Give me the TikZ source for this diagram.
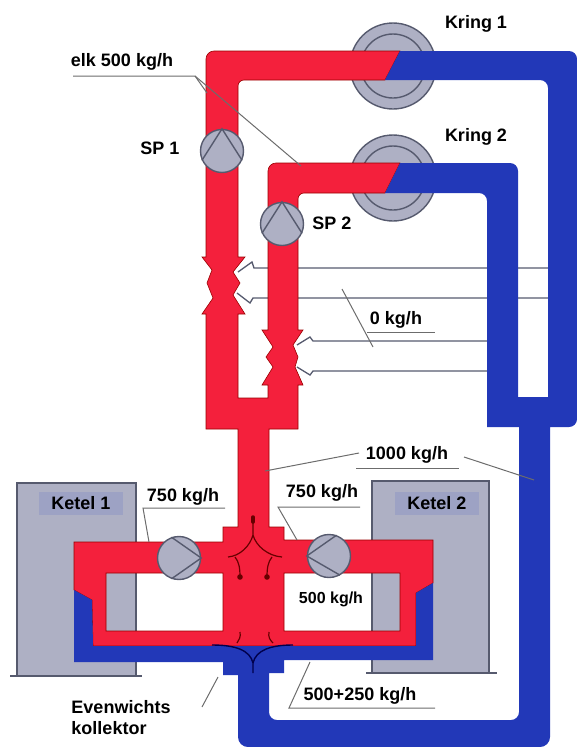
\documentclass[tikz,border=0pt]{standalone}
\usepackage{fontspec}
\setmainfont{Liberation Sans}
\usetikzlibrary{positioning}
\definecolor{pipered}{HTML}{F4203C}
\definecolor{pipeblue}{HTML}{2238B8}
\definecolor{plate}{HTML}{AEB0C4}
\definecolor{tag}{HTML}{9DA2C4}
\definecolor{rim}{HTML}{565A6E}
\tikzset{
  tekst/.style={font=\bfseries\fontsize{18}{21}\selectfont,inner sep=0pt,align=left},
  kleintekst/.style={font=\bfseries\fontsize{16}{19}\selectfont,inner sep=0pt},
  ketelbox/.style={draw=rim,line width=1.2pt,fill=plate},
  ketelnaam/.style={tekst,fill=tag,minimum width=84pt,minimum height=23pt},
  disc/.style={circle,draw=rim,line width=1.4pt,fill=plate,inner sep=0pt},
  pomp/.style={disc,minimum size=43pt},
  vaan/.style={draw=rim,line width=1.4pt},
  leader/.style={draw=gray!85!black,line width=1pt},
  regel/.style={draw=rim,line width=1.3pt},
  klepred/.style={draw=red!40!black,line width=1.2pt},
  klepblue/.style={draw=blue!30!black,line width=1.4pt}
}
\begin{document}
\begin{tikzpicture}[x=1pt,y=-1pt]
  \useasboundingbox (0,0) rectangle (577,747);
  % Ketels behind the manifold.
  \draw[ketelbox] (17,483) rectangle (136,676);
  \draw[ketelbox] (372,481) rectangle (489,673);
  \draw[rim,line width=1.4pt] (10,676) -- (142,676);
  \draw[rim,line width=1.4pt] (366,673) -- (497,673);

  % Control lines run behind the pipes.
  \foreach \a/\b/\c/\d/\e/\f/\g/\h in {
    238/272/252/262/254/268/548/268,
    237/293/250/303/253/298/548/298,
    297/345/310/337/313/341/487/341,
    297/367/310/375/313/371/487/371}
    \draw[regel] (\a,\b) -- (\c,\d) -- (\e,\f) -- (\g,\h);

  % Consumers.
  \node[disc,minimum size=86pt] (krA) at (393,66) {};
  \node[disc,minimum size=64pt] (rgA) at (393,66) {};
  \node[disc,minimum size=86pt] (krB) at (393,178) {};
  \node[disc,minimum size=64pt] (rgB) at (393,178) {};

  % Flow side, with the regulating valves in both risers.
  \filldraw[fill=pipered,draw=red!60!black,line width=.6pt,even odd rule] (400,51) [rounded corners=8pt] -- (206,51) [sharp corners] -- (206,257)
    -- (202,257) -- (212,270) -- (207,283) -- (213,298) -- (202,314) -- (206,314) -- (206,429)
    -- (238,429) -- (238,527) -- (223,527) -- (223,542) -- (74,542) -- (74,590) -- (92,600) -- (93,646)
    -- (416,646) -- (416,593) -- (433,583) -- (433,540) -- (284,540) -- (284,527) -- (269,527)
    -- (269,429) -- (298,429) -- (298,385) -- (303,385) -- (295,367) -- (298,357) -- (293,345)
    -- (303,330) -- (298,330) [rounded corners=6pt] -- (298,193) [sharp corners] -- (385,193) -- (400,163)
    [rounded corners=8pt] -- (268,163) [sharp corners] -- (268,330) -- (262,330) -- (273,347) -- (266,357)
    -- (273,367) -- (262,385) -- (268,385) -- (268,398) -- (238,398) -- (238,314) -- (245,314)
    -- (233,295) -- (240,283) -- (233,272) -- (245,257) -- (238,257) [rounded corners=6pt] -- (238,80)
    [sharp corners] -- (385,80) -- cycle
    (106,573) rectangle (223,631) (284,573) rectangle (400,631);

  % Return side, one outline with all branches.
  \fill[pipeblue] (400,51) [rounded corners=8pt] -- (577,51) -- (577,427) [sharp corners] -- (550,427)
    [rounded corners=10pt] -- (550,747) -- (238,747) [sharp corners] -- (238,675) -- (223,675) -- (223,662)
    -- (74,662) -- (74,590) -- (92,600) -- (93,646) -- (416,646) -- (416,593) -- (433,583) -- (433,660)
    -- (284,660) -- (284,673) -- (269,673) [rounded corners=8pt] -- (269,720) -- (519,720)
    [sharp corners] -- (519,427) -- (487,427) [rounded corners=8pt] -- (487,193) [sharp corners] -- (385,193)
    -- (400,163) [rounded corners=8pt] -- (518,163) [sharp corners] -- (518,397) -- (548,397)
    [rounded corners=8pt] -- (548,80) [sharp corners] -- (385,80) -- cycle;

  % Check valves in the collector.
  \fill[red!40!black] (240,577) circle (2.8) (267,577) circle (2.8);
  \draw[klepred,line width=3.5pt,line cap=round] (253,517) -- (253,522);
  \draw[klepred] (253,522) -- (253,535)
    (253,535) .. controls (250,546) and (240,556) .. (228,557)
    (235,557) .. controls (239,562) and (240,568) .. (240,577)
    (253,535) .. controls (256,546) and (268,556) .. (282,557)
    (272,557) .. controls (268,562) and (267,568) .. (267,577)
    (240,632) .. controls (241,637) and (239,640) .. (237,643)
    (269,632) .. controls (268,637) and (270,640) .. (273,643);
  \draw[klepblue] (212,645) .. controls (235,645) and (250,650) .. (253,663) -- (253,673)
    (293,645) .. controls (271,645) and (256,650) .. (253,663);

  % Pumps.
  \node[pomp] (SPa) at (222,151) {};
  \node[pomp] (SPb) at (282,224) {};
  \node[pomp] (PKa) at (179,558) {};
  \node[pomp] (PKb) at (329,556) {};
  \foreach \p/\a/\b/\c in {SPa/90/205/335,SPb/90/205/335,PKa/0/110/250,PKb/180/70/300}
    \draw[vaan] (\p.\b) -- (\p.\a) -- (\p.\c);

  % Labels.
  \node[tekst] (lbKrA) at (476,24) {Kring 1};
  \node[tekst] (lbKrB) at (476,137) {Kring 2};
  \node[tekst] (lbSPa) at (160,148) {SP 1};
  \node[tekst] (lbSPb) at (332,223) {SP 2};
  \node[tekst] (lbElk) at (122,62) {elk 500 kg/h};
  \node[tekst] (lbNul) at (396,320) {0 kg/h};
  \node[tekst] (lbDuiz) at (407,455) {1000 kg/h};
  \node[tekst] (lbLi) at (183,497) {750 kg/h};
  \node[tekst] (lbRe) at (322,493) {750 kg/h};
  \node[kleintekst] (lbVijf) at (331,599) {500 kg/h};
  \node[tekst] (lbSom) at (360,696) {500+250 kg/h};
  \node[tekst] (lbEvw) at (121,718) {Evenwichts\\kollektor};
  \node[ketelnaam] (lbKetA) at (81,503.5) {Ketel 1};
  \node[ketelnaam] (lbKetB) at (437,503.5) {Ketel 2};

  % Leaders from the labels to the pipes.
  \coordinate (elkS) at (73,76);
  \coordinate (elkK) at (195,76);
  \coordinate (elkA) at (207,93);
  \coordinate (elkB) at (301,166);
  \draw[leader] (elkS) -- (elkK) -- (elkA);
  \draw[leader] (elkK) -- (elkB);
  \coordinate (nulS) at (367,332);
  \coordinate (nulE) at (435,332);
  \coordinate (nulA) at (342,289);
  \coordinate (nulB) at (373,347);
  \draw[leader] (nulS) -- (nulE);
  \draw[leader] (nulA) -- (nulB);
  \coordinate (duizS) at (356,468);
  \coordinate (duizE) at (459,468);
  \coordinate (duizL) at (359,453);
  \coordinate (duizP) at (265,471);
  \coordinate (duizR) at (464,457);
  \coordinate (duizQ) at (534,480);
  \draw[leader] (duizS) -- (duizE);
  \draw[leader] (duizL) -- (duizP);
  \draw[leader] (duizR) -- (duizQ);
  \coordinate (liK) at (143,508);
  \coordinate (liE) at (225,508);
  \coordinate (liP) at (149,542);
  \draw[leader] (liP) -- (liK) -- (liE);
  \coordinate (reK) at (278,507);
  \coordinate (reE) at (360,507);
  \coordinate (reP) at (297,540);
  \draw[leader] (reP) -- (reK) -- (reE);
  \coordinate (somK) at (289,708);
  \coordinate (somE) at (435,708);
  \coordinate (somP) at (310,662);
  \draw[leader] (somP) -- (somK) -- (somE);
  \coordinate (evwA) at (218,677);
  \coordinate (evwB) at (202,707);
  \draw[leader] (evwA) -- (evwB);
\end{tikzpicture}
\end{document}
